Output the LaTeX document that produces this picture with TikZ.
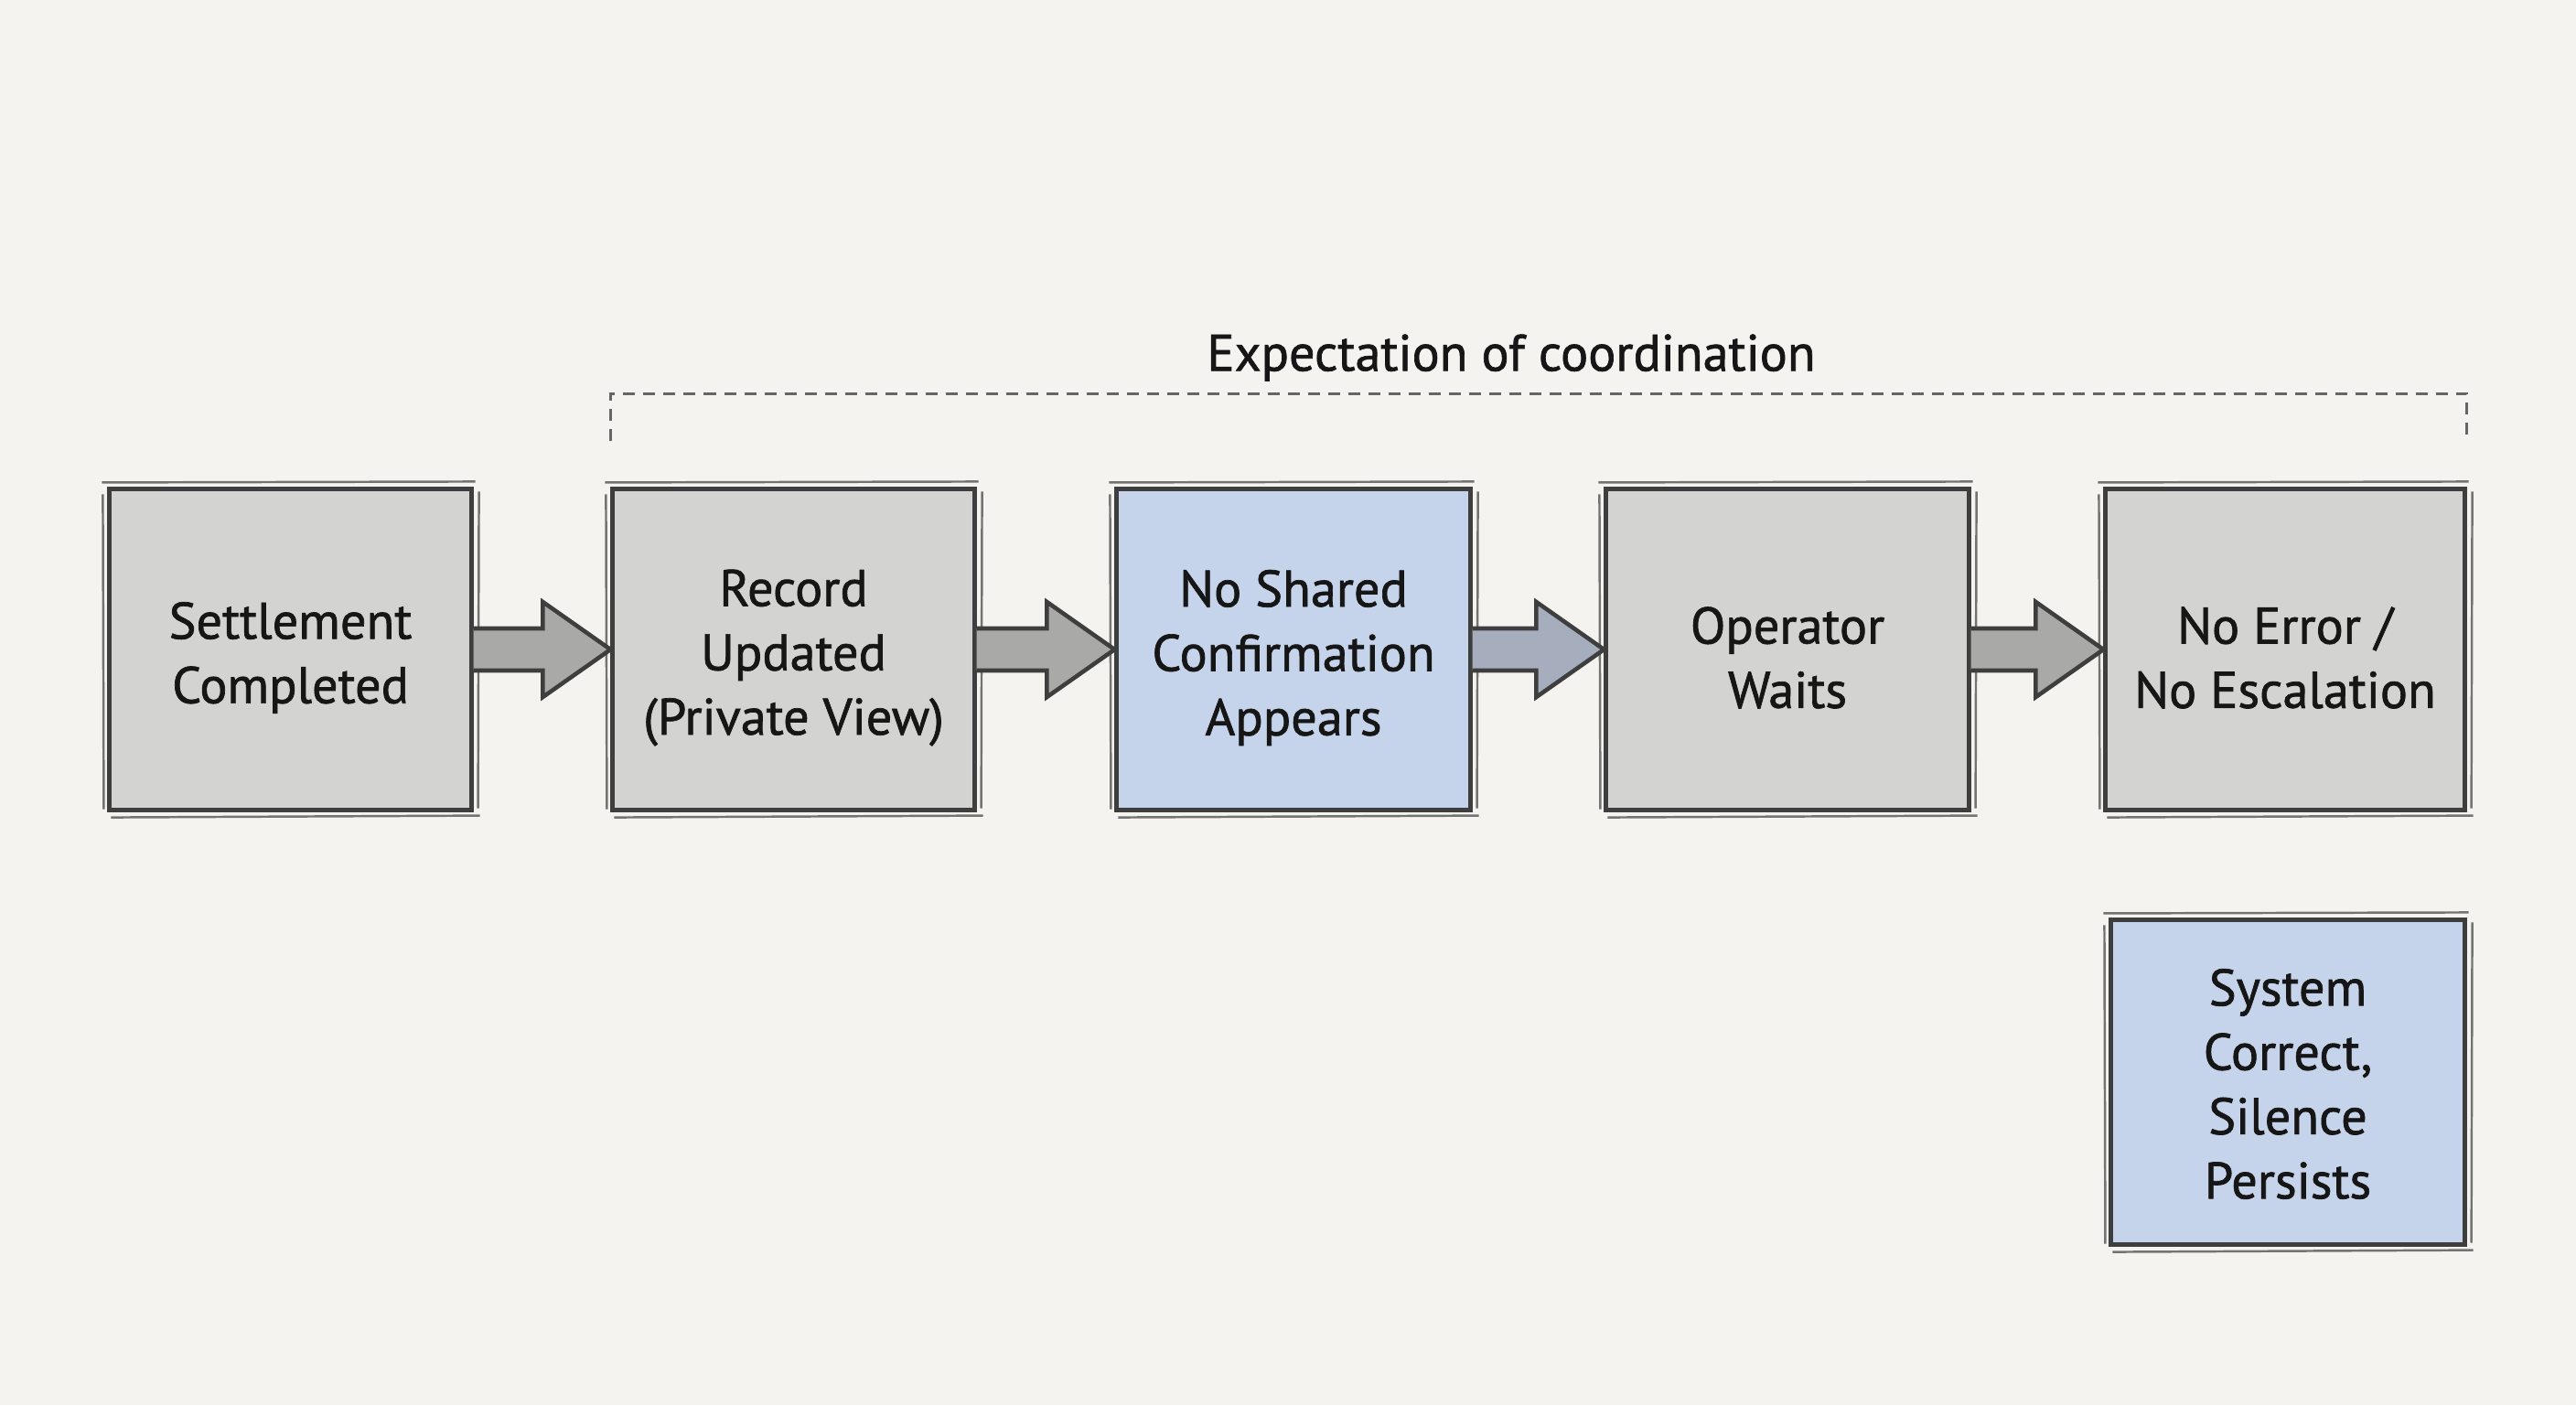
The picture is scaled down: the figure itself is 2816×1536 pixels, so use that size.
\documentclass[tikz,border=0pt]{standalone}
\usepackage{fontspec}
\setmainfont[FakeBold=0.6]{PT Sans}
\newfontfamily\labelfont[FakeBold=1.2]{PT Sans}
\usetikzlibrary{calc}
\definecolor{paper}{HTML}{F4F3EF}
\definecolor{gfill}{HTML}{D3D3D1}
\definecolor{bfill}{HTML}{C6D4EB}
\definecolor{ink}{HTML}{3E3E3E}
\definecolor{txt}{HTML}{161616}
\definecolor{garrow}{HTML}{A9A9A7}
\definecolor{barrow}{HTML}{A6AEBD}
\tikzset{
  flowbox/.style={draw=ink, line width=1.4pt, inner sep=0pt},
  graybox/.style={flowbox, fill=gfill},
  bluebox/.style={flowbox, fill=bfill},
  boxtext/.style={align=center, text=txt, font=\labelfont\fontsize{16}{20}\selectfont, inner sep=0pt},
  sketch/.style={draw=ink, line width=0.7pt, opacity=0.7},
  arr/.style={draw=ink, line width=1.3pt, line join=miter},
  bracket/.style={draw=ink!80, line width=1pt, dash pattern=on 0.13cm off 0.09cm},
  lbl/.style={text=txt, font=\labelfont\fontsize{16}{20}\selectfont}
}
\newcommand{\flowarrow}[3]{%
  \path[arr, fill=#3] let \p1=(#1.east), \p2=(#2.west) in
    (\x1,\y1+0.23cm) -- (\x2-0.74cm,\y1+0.23cm) -- (\x2-0.74cm,\y1+0.52cm) --
    (\x2,\y1) -- (\x2-0.74cm,\y1-0.52cm) -- (\x2-0.74cm,\y1-0.23cm) --
    (\x1,\y1-0.23cm);}
\newcommand{\sketchy}[1]{%
  \draw[sketch] ($(#1.north west)+(-0.06cm,0.05cm)$) -- ($(#1.north east)+(0.02cm,0.06cm)$);
  \draw[sketch] ($(#1.south west)+(0.04cm,-0.06cm)$) -- ($(#1.south east)+(0.07cm,-0.04cm)$);
  \draw[sketch] ($(#1.north east)+(0.06cm,-0.05cm)$) -- ($(#1.south east)+(0.05cm,0.04cm)$);
  \draw[sketch] ($(#1.north west)+(-0.05cm,-0.08cm)$) -- ($(#1.south west)+(-0.04cm,0.03cm)$);}
\newcommand{\boxlabel}[3]{\node[boxtext] (#1t) at ([yshift=#3]#1.center) {#2};}
\begin{document}
\begin{tikzpicture}[x=0.01cm, y=-0.01cm]
\fill[paper] (0,0) rectangle (2816,1536);
\useasboundingbox (0,0) rectangle (2816,1536);

\node[graybox, minimum width=3.95cm, minimum height=3.5cm] (s1) at (317.5,710) {};
\node[graybox, minimum width=3.95cm, minimum height=3.5cm] (s2) at (867.5,710) {};
\node[bluebox, minimum width=3.86cm, minimum height=3.5cm] (s3) at (1414,710) {};
\node[graybox, minimum width=3.96cm, minimum height=3.5cm] (s4) at (1954,710) {};
\node[graybox, minimum width=3.92cm, minimum height=3.5cm] (s5) at (2498,710) {};
\node[bluebox, minimum width=3.86cm, minimum height=3.54cm] (s6) at (2501,1183) {};

\boxlabel{s1}{Settlement\\Completed}{-0.09cm}
\boxlabel{s2}{Record\\Updated\\(Private View)}{-0.09cm}
\boxlabel{s3}{No Shared\\Confirmation\\Appears}{-0.09cm}
\boxlabel{s4}{Operator\\Waits}{-0.09cm}
\boxlabel{s5}{No Error /\\No Escalation}{-0.09cm}
\boxlabel{s6}{System\\Correct,\\Silence\\Persists}{-0.02cm}

\sketchy{s1}\sketchy{s2}\sketchy{s3}\sketchy{s4}\sketchy{s5}\sketchy{s6}

\flowarrow{s1}{s2}{garrow}
\flowarrow{s2}{s3}{garrow}
\flowarrow{s3}{s4}{barrow}
\flowarrow{s4}{s5}{garrow}

\coordinate (bl) at ($(s2.north west)+(0,0.5cm)$);
\coordinate (br) at ($(s5.north east)+(0,0.5cm)$);
\draw[bracket] (bl) -- ++(0,0.52cm) -| (br);
\node[lbl] (title) at (1652,391) {Expectation of coordination};
\end{tikzpicture}
\end{document}
